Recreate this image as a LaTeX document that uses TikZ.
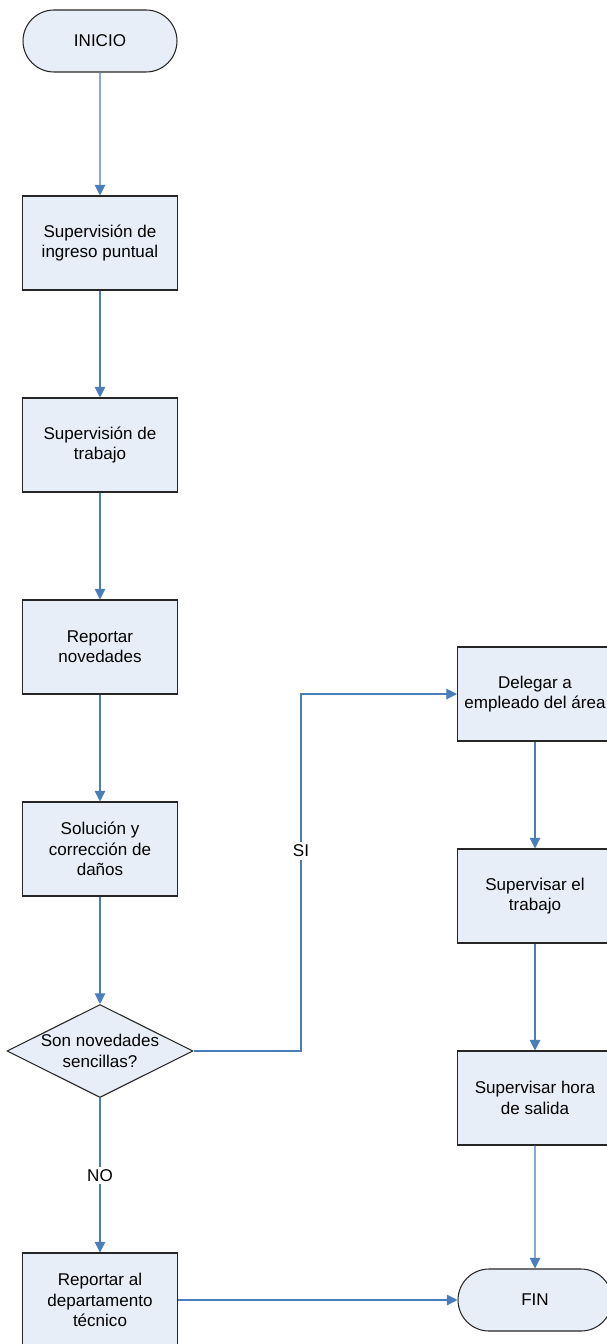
\documentclass[tikz,border=0pt]{standalone}
\usepackage{fontspec}
\setmainfont{Liberation Sans}
\usetikzlibrary{shapes.geometric, shapes.misc, arrows.meta}

\definecolor{boxfill}{HTML}{E8EEF8}
\definecolor{flowline}{HTML}{4A7EBB}

\tikzset{
  stepbox/.style={draw=black!85, fill=boxfill, line width=0.6pt, minimum width=3.1cm, minimum height=1.88cm, inner sep=0pt, align=center},
  terminal/.style={rounded rectangle, draw=black!85, fill=boxfill, line width=0.6pt, minimum width=3.08cm, minimum height=1.24cm, inner sep=0pt},
  decision/.style={diamond, aspect=2, draw=black!85, fill=boxfill, line width=0.6pt, minimum width=3.72cm, minimum height=1.86cm, inner sep=0pt, align=center},
  flow/.style={draw=flowline, line width=0.6pt, -{Triangle[width=6pt, length=6pt]}},
  every node/.style={font=\fontsize{9.7}{11.6}\selectfont}
}

\begin{document}
\begin{tikzpicture}[x=0.02cm, y=-0.02cm]
  \useasboundingbox (0, 0) rectangle (607, 1344);
  \def\x{100}
  \def\z{535}
  \def\y{202}

  \node[terminal] (INICIO) at (\x, 41) {INICIO};
  \node[stepbox] (INGRESO) at (\x, 243) {Supervisión de\\ingreso puntual};
  \node[stepbox] (TRABAJO) at (\x, 243 + 1 * \y) {Supervisión de\\trabajo};
  \node[stepbox] (REPORTE) at (\x, 243 + 2 * \y) {Reportar\\novedades};
  \node[stepbox] (SOLUCION) at (\x, 243 + 3 * \y) {Solución y\\corrección de\\daños};
  \node[decision] (SENCILLAS) at (\x, 243 + 4 * \y) {\makebox[0pt]{Son novedades}\\\makebox[0pt]{sencillas?}};
  \node[stepbox] (TECNICO) at (\x, 1300) {Reportar al\\departamento\\técnico};

  \node[stepbox] (DELEGAR) at (\z, 694) {Delegar a\\empleado del área};
  \node[stepbox] (SUPTRAB) at (\z, 694 + 1 * \y) {Supervisar el\\trabajo};
  \node[stepbox] (SALIDA) at (\z, 694 + 2 * \y) {Supervisar hora\\de salida};
  \node[terminal] (FIN) at (\z, 1300) {FIN};

  \coordinate (GIRO) at (301, 243 + 4 * \y);

  \draw[flow] (INICIO) -- (INGRESO);
  \draw[flow] (INGRESO) -- (TRABAJO);
  \draw[flow] (TRABAJO) -- (REPORTE);
  \draw[flow] (REPORTE) -- (SOLUCION);
  \draw[flow] (SOLUCION) -- (SENCILLAS);
  \draw[flow] (SENCILLAS.east) -- (GIRO) |- (DELEGAR.west) node [pos=0.28, fill=white, inner sep=1.5pt] {SI};
  \draw[flow] (SENCILLAS) -- (TECNICO) node [pos=0.5, fill=white, inner sep=1.5pt] {NO};
  \draw[flow] (TECNICO) -- (FIN);

  \draw[flow] (DELEGAR) -- (SUPTRAB);
  \draw[flow] (SUPTRAB) -- (SALIDA);
  \draw[flow] (SALIDA) -- (FIN);
\end{tikzpicture}
\end{document}
